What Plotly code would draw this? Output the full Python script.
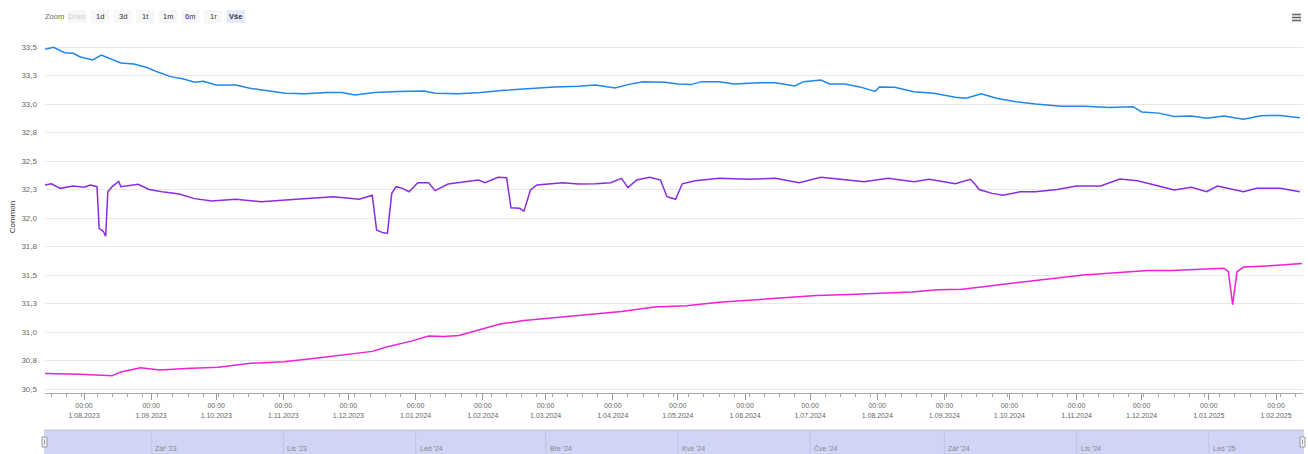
import plotly.graph_objects as go

# ---------------- data ----------------
blue_dates = ["2023-07-14","2023-07-18","2023-07-23","2023-07-27","2023-07-30","2023-08-05","2023-08-09","2023-08-13",
              "2023-08-18","2023-08-24","2023-08-30","2023-09-04","2023-09-10","2023-09-16","2023-09-21","2023-09-25",
              "2023-10-01","2023-10-10","2023-10-16","2023-10-23","2023-11-02","2023-11-11","2023-11-21","2023-11-28",
              "2023-12-04","2023-12-13","2023-12-24","2024-01-05","2024-01-10","2024-01-21","2024-01-31","2024-02-11",
              "2024-02-23","2024-03-05","2024-03-16","2024-03-24","2024-04-02","2024-04-08","2024-04-15","2024-04-25",
              "2024-05-01","2024-05-07","2024-05-12","2024-05-20","2024-05-27","2024-06-08","2024-06-15","2024-06-24",
              "2024-06-28","2024-07-06","2024-07-10","2024-07-17","2024-07-24","2024-07-31","2024-08-02","2024-08-09",
              "2024-08-18","2024-08-27","2024-09-06","2024-09-11","2024-09-18","2024-09-25","2024-10-04","2024-10-13",
              "2024-10-25","2024-11-05","2024-11-16","2024-11-27","2024-12-01","2024-12-09","2024-12-16","2024-12-24",
              "2024-12-31","2025-01-08","2025-01-17","2025-01-25","2025-02-03","2025-02-12"]
blue_vals = [33.48,33.497,33.45,33.445,33.415,33.386,33.43,33.40,
             33.36,33.35,33.32,33.28,33.24,33.22,33.19,33.20,
             33.167,33.167,33.14,33.12,33.095,33.09,33.10,33.10,
             33.08,33.10,33.11,33.114,33.095,33.09,33.10,33.12,
             33.135,33.15,33.155,33.167,33.14,33.17,33.196,33.19,
             33.175,33.17,33.196,33.196,33.175,33.187,33.187,33.158,
             33.196,33.21,33.175,33.175,33.15,33.11,33.15,33.146,
             33.108,33.094,33.06,33.05,33.09,33.05,33.02,33.00,
             32.98,32.98,32.97,32.976,32.93,32.92,32.89,32.895,
             32.875,32.895,32.866,32.897,32.90,32.88]

purple_dates = ["2023-07-14","2023-07-17","2023-07-21","2023-07-27","2023-08-01","2023-08-04","2023-08-07","2023-08-08",
                "2023-08-10","2023-08-11","2023-08-12","2023-08-14","2023-08-17","2023-08-18","2023-08-26","2023-08-31",
                "2023-09-06","2023-09-14","2023-09-21","2023-09-29","2023-10-10","2023-10-22","2023-11-02","2023-11-13",
                "2023-11-24","2023-12-06","2023-12-12","2023-12-14","2023-12-17","2023-12-19","2023-12-21","2023-12-23",
                "2023-12-26","2023-12-29","2024-01-02","2024-01-07","2024-01-10","2024-01-16","2024-01-24","2024-01-30",
                "2024-02-02","2024-02-08","2024-02-12","2024-02-14","2024-02-18","2024-02-20","2024-02-23","2024-02-26",
                "2024-03-09","2024-03-16","2024-03-24","2024-03-31","2024-04-05","2024-04-08","2024-04-12","2024-04-18",
                "2024-04-23","2024-04-26","2024-04-30","2024-05-03","2024-05-09","2024-05-20","2024-06-03","2024-06-15",
                "2024-06-26","2024-07-06","2024-07-15","2024-07-26","2024-08-06","2024-08-18","2024-08-25","2024-09-06",
                "2024-09-13","2024-09-15","2024-09-17","2024-09-23","2024-09-28","2024-10-06","2024-10-13","2024-10-23",
                "2024-11-01","2024-11-12","2024-11-21","2024-11-29","2024-12-07","2024-12-16","2024-12-24","2024-12-31",
                "2025-01-05","2025-01-17","2025-01-23","2025-02-03","2025-02-12"]
purple_vals = [32.289,32.30,32.26,32.28,32.27,32.29,32.275,31.91,
               31.88,31.84,32.23,32.275,32.32,32.275,32.295,32.25,
               32.23,32.21,32.17,32.15,32.164,32.143,32.158,32.17,
               32.187,32.164,32.20,31.895,31.87,31.866,32.216,32.275,
               32.26,32.23,32.31,32.31,32.24,32.298,32.318,32.333,
               32.31,32.357,32.354,32.09,32.085,32.06,32.246,32.29,
               32.31,32.298,32.30,32.31,32.348,32.266,32.333,32.357,
               32.333,32.187,32.164,32.30,32.327,32.348,32.34,32.348,
               32.31,32.357,32.34,32.318,32.348,32.318,32.34,32.30,
               32.34,32.30,32.25,32.216,32.20,32.23,32.23,32.25,
               32.28,32.28,32.342,32.327,32.29,32.246,32.27,32.23,
               32.28,32.23,32.26,32.26,32.23]

magenta_dates = ["2023-07-14","2023-07-30","2023-08-14","2023-08-18","2023-08-27","2023-09-05","2023-09-17","2023-10-02",
                 "2023-10-17","2023-11-01","2023-11-16","2023-11-30","2023-12-12","2023-12-19","2023-12-30","2024-01-07",
                 "2024-01-14","2024-01-21","2024-01-31","2024-02-09","2024-02-20","2024-03-07","2024-03-21","2024-04-05",
                 "2024-04-20","2024-05-05","2024-05-20","2024-06-04","2024-06-19","2024-07-04","2024-07-19","2024-08-03",
                 "2024-08-17","2024-08-29","2024-09-09","2024-09-20","2024-10-05","2024-10-20","2024-11-04","2024-11-19",
                 "2024-12-04","2024-12-15","2024-12-30","2025-01-08","2025-01-10","2025-01-12","2025-01-14","2025-01-17",
                 "2025-01-28","2025-02-13"]
magenta_vals = [30.637,30.63,30.616,30.65,30.687,30.667,30.68,30.69,
                30.725,30.74,30.77,30.80,30.83,30.87,30.92,30.965,
                30.96,30.97,31.02,31.07,31.10,31.13,31.155,31.18,
                31.22,31.23,31.26,31.28,31.30,31.32,31.33,31.34,
                31.35,31.37,31.375,31.40,31.435,31.47,31.50,31.52,
                31.54,31.54,31.55,31.56,31.53,31.24,31.53,31.57,
                31.58,31.60]

series_names = ["Series 1", "Series 2", "Series 3"]
series_colors = ["#1f86ea", "#8a2be2", "#f01fd8"]

month_ticks = ["2023-08-01","2023-09-01","2023-10-01","2023-11-01","2023-12-01","2024-01-01","2024-02-01",
               "2024-03-01","2024-04-01","2024-05-01","2024-06-01","2024-07-01","2024-08-01","2024-09-01",
               "2024-10-01","2024-11-01","2024-12-01","2025-01-01","2025-02-01"]
month_tick_labels = ["00:00<br>1.08.2023","00:00<br>1.09.2023","00:00<br>1.10.2023","00:00<br>1.11.2023",
                     "00:00<br>1.12.2023","00:00<br>1.01.2024","00:00<br>1.02.2024","00:00<br>1.03.2024",
                     "00:00<br>1.04.2024","00:00<br>1.05.2024","00:00<br>1.06.2024","00:00<br>1.07.2024",
                     "00:00<br>1.08.2024","00:00<br>1.09.2024","00:00<br>1.10.2024","00:00<br>1.11.2024",
                     "00:00<br>1.12.2024","00:00<br>1.01.2025","00:00<br>1.02.2025"]

y_ticks = [30.5, 30.75, 31.0, 31.25, 31.5, 31.75, 32.0, 32.25, 32.5, 32.75, 33.0, 33.25, 33.5]
y_tick_labels = ["30,5","30,8","31,0","31,3","31,5","31,8","32,0","32,3","32,5","32,8","33,0","33,3","33,5"]

nav_label_dates = ["2023-09-01","2023-11-01","2024-01-01","2024-03-01","2024-05-01","2024-07-01",
                   "2024-09-01","2024-11-01","2025-01-01"]
nav_labels = ["Zář '23","Lis '23","Led '24","Bře '24","Kvě '24","Čve '24","Zář '24","Lis '24","Led '25"]

range_buttons = ["Dnes","1d","3d","1t","1m","6m","1r","Vše"]

# ---------------- layout helpers (pixel -> paper) ----------------
W, H = 1308, 454
ML, MR, MT, MB = 45, 5, 41, 61
PW, PH = W - ML - MR, H - MT - MB
def pxx(x): return (x - ML) / PW
def pxy(y): return (H - MB - y) / PH

FONT = "Liberation Sans, Arial, sans-serif"

fig = go.Figure()
for name, color, xs, ys in zip(series_names, series_colors,
                               [blue_dates, purple_dates, magenta_dates],
                               [blue_vals, purple_vals, magenta_vals]):
    fig.add_trace(go.Scatter(x=xs, y=ys, mode="lines", name=name,
                             line=dict(color=color, width=1.5)))

shapes = []
annotations = []

# Navigator
nav_top, nav_bot = 430, 454
shapes.append(dict(type="rect", xref="paper", yref="paper", x0=pxx(44), x1=pxx(1304),
                   y0=pxy(nav_bot), y1=pxy(nav_top), fillcolor="#d0d5f6", line=dict(width=0), layer="above"))
for d in nav_label_dates:
    shapes.append(dict(type="line", xref="x", yref="paper", x0=d, x1=d, y0=pxy(nav_bot), y1=pxy(nav_top),
                       line=dict(color="#bfc4e6", width=1)))
shapes.append(dict(type="line", xref="paper", yref="paper", x0=pxx(44), x1=pxx(1304),
                   y0=pxy(nav_top), y1=pxy(nav_top), line=dict(color="#c2c2c2", width=1)))
for d, lab in zip(nav_label_dates, nav_labels):
    annotations.append(dict(x=d, xref="x", y=pxy(448), yref="paper", text=lab, showarrow=False,
                            xanchor="left", yanchor="middle", xshift=2,
                            font=dict(size=7, color="#888", family=FONT)))
for hx in (44.5, 1302.5):
    shapes.append(dict(type="rect", xref="paper", yref="paper", x0=pxx(hx - 2.5), x1=pxx(hx + 2.5),
                       y0=pxy(447), y1=pxy(437), fillcolor="#f2f2f2", line=dict(color="#999", width=1)))
    shapes.append(dict(type="line", xref="paper", yref="paper", x0=pxx(hx), x1=pxx(hx),
                       y0=pxy(444.5), y1=pxy(439.5), line=dict(color="#999", width=1)))

# Range selector
annotations.append(dict(x=pxx(54.5), y=pxy(16.5), xref="paper", yref="paper", text="Zoom", showarrow=False,
                        xanchor="center", yanchor="middle", font=dict(size=7.5, color="#666", family=FONT)))
for i, lab in enumerate(range_buttons):
    cx = 77.3 + 22.63 * i
    selected = (lab == "Vše")
    shapes.append(dict(type="rect", xref="paper", yref="paper", x0=pxx(cx - 9), x1=pxx(cx + 9),
                       y0=pxy(23), y1=pxy(10), fillcolor="#e6e8fb" if selected else "#f7f7f7",
                       line=dict(width=0)))
    color = "#cccccc" if lab == "Dnes" else "#333333"
    txt = "<b>%s</b>" % lab if selected else lab
    annotations.append(dict(x=pxx(cx), y=pxy(16.5), xref="paper", yref="paper", text=txt, showarrow=False,
                            xanchor="center", yanchor="middle", font=dict(size=7.5, color=color, family=FONT)))

# Hamburger menu
for yy in (14.5, 17.5, 20.5):
    shapes.append(dict(type="line", xref="paper", yref="paper", x0=pxx(1292), x1=pxx(1301),
                       y0=pxy(yy), y1=pxy(yy), line=dict(color="#666", width=1.6)))

fig.update_layout(
    width=W, height=H, autosize=False,
    margin=dict(l=ML, r=MR, t=MT, b=MB, pad=0),
    paper_bgcolor="white", plot_bgcolor="white",
    showlegend=False,
    font=dict(family=FONT, color="#666"),
    shapes=shapes, annotations=annotations,
    xaxis=dict(type="date", range=["2023-07-14 00:07", "2025-02-13 10:48"],
               tickmode="array", tickvals=month_ticks, ticktext=month_tick_labels,
               ticks="outside", ticklen=6, tickcolor="#999", tickwidth=1,
               showline=True, linecolor="#aaa", linewidth=1,
               showgrid=False, zeroline=False, automargin=False,
               tickfont=dict(size=7, color="#666", family=FONT),
               minor=dict(ticks="outside", ticklen=3, tickcolor="#aaa", dtick=7 * 86400000,
                          tick0="2023-07-31", showgrid=False)),
    yaxis=dict(range=[30.4649, 33.5526], tickmode="array", tickvals=y_ticks, ticktext=y_tick_labels,
               showgrid=True, gridcolor="#e8e8e8", gridwidth=1, zeroline=False, showline=False,
               ticks="", automargin=False, ticklabelstandoff=7,
               tickfont=dict(size=8, color="#666", family=FONT),
               title=dict(text="Common", standoff=4, font=dict(size=8, color="#333", family=FONT))),
)

fig.write_html("out.html", config={"displayModeBar": False},
               post_script="document.body.style.margin='0';document.body.style.padding='0';"
                           "document.body.style.overflow='hidden';")
